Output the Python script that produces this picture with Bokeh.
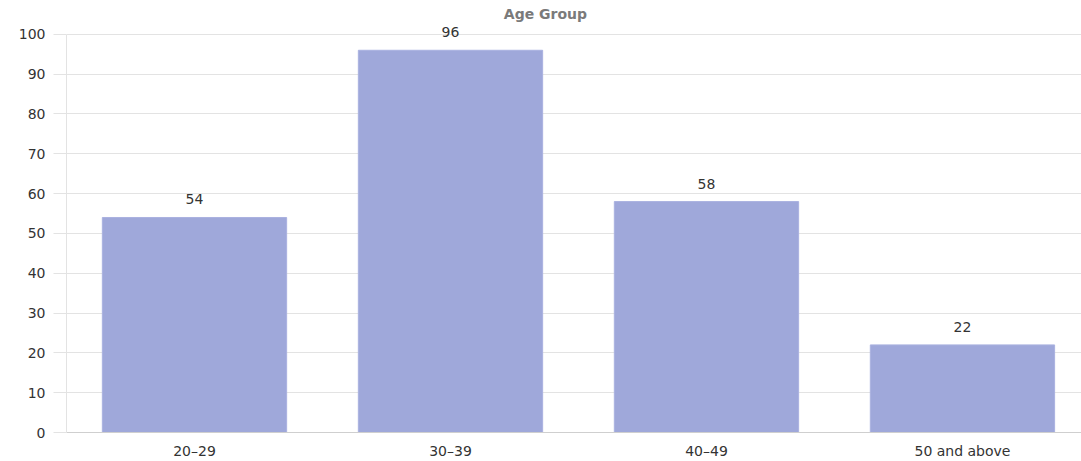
import numpy as np
from bokeh.plotting import figure
from bokeh.models import ColumnDataSource, Range1d, FixedTicker, LabelSet, Label
from bokeh.core.properties import value
from bokeh.embed import file_html
from bokeh.resources import INLINE

# Respondents by age group
age_groups = ["20\u201329", "30\u201339", "40\u201349", "50 and above"]
counts = [54, 96, 58, 22]
y_ticks = [0, 10, 20, 30, 40, 50, 60, 70, 80, 90, 100]
title = "Age Group"

xpos = np.arange(len(age_groups)) + 0.5
src = ColumnDataSource(dict(x=xpos, top=counts, label=[str(c) for c in counts]))

FONT = "DejaVu Sans"
TEXT = "#333333"
GRID = "#e3e3e3"

# headroom above 100 holds the title and the value labels
p = figure(width=1081, height=461, output_backend="svg", toolbar_location=None,
           x_range=Range1d(0, 3.965), y_range=Range1d(0, 108.5),
           min_border_left=66, min_border_right=0, min_border_top=0,
           min_border_bottom=0, outline_line_color=None)

p.add_layout(Label(x=1.871, y=105.0, text=title, text_align="center",
                   text_baseline="middle", text_font=FONT, text_font_size="14px",
                   text_font_style="bold", text_color="#7a7a7a"))

p.vbar(x="x", top="top", width=0.72, bottom=0, source=src,
       fill_color="#9fa8da", line_color="#aab2e0", line_width=1)

p.add_layout(LabelSet(x="x", y="top", text="label", source=src, y_offset=13,
                      text_align="center", text_baseline="alphabetic",
                      text_font=value(FONT), text_font_size=value("14px"),
                      text_color=TEXT))

# x axis: category names only
p.xaxis.ticker = FixedTicker(ticks=list(xpos))
p.xaxis.major_label_overrides = {float(x): g for x, g in zip(xpos, age_groups)}
p.xaxis.major_tick_line_color = None
p.xaxis.major_tick_out = 0
p.xaxis.major_tick_in = 0
p.xaxis.minor_tick_line_color = None
p.xaxis.axis_line_color = "#cfcfcf"
p.xaxis.major_label_standoff = 10
p.xaxis.major_label_text_font = FONT
p.xaxis.major_label_text_font_size = "14px"
p.xaxis.major_label_text_color = TEXT
p.xgrid.grid_line_color = None

# y axis
p.yaxis.ticker = FixedTicker(ticks=y_ticks)
p.yaxis.bounds = (0, 100)
p.yaxis.axis_line_color = GRID
p.yaxis.major_tick_line_color = GRID
p.yaxis.major_tick_out = 13
p.yaxis.major_tick_in = 0
p.yaxis.minor_tick_line_color = None
p.yaxis.major_label_standoff = 8
p.yaxis.major_label_text_font = FONT
p.yaxis.major_label_text_font_size = "14px"
p.yaxis.major_label_text_color = TEXT
p.ygrid.grid_line_color = GRID
p.ygrid.grid_line_width = 1

open("out.html", "w").write(file_html(p, INLINE))
